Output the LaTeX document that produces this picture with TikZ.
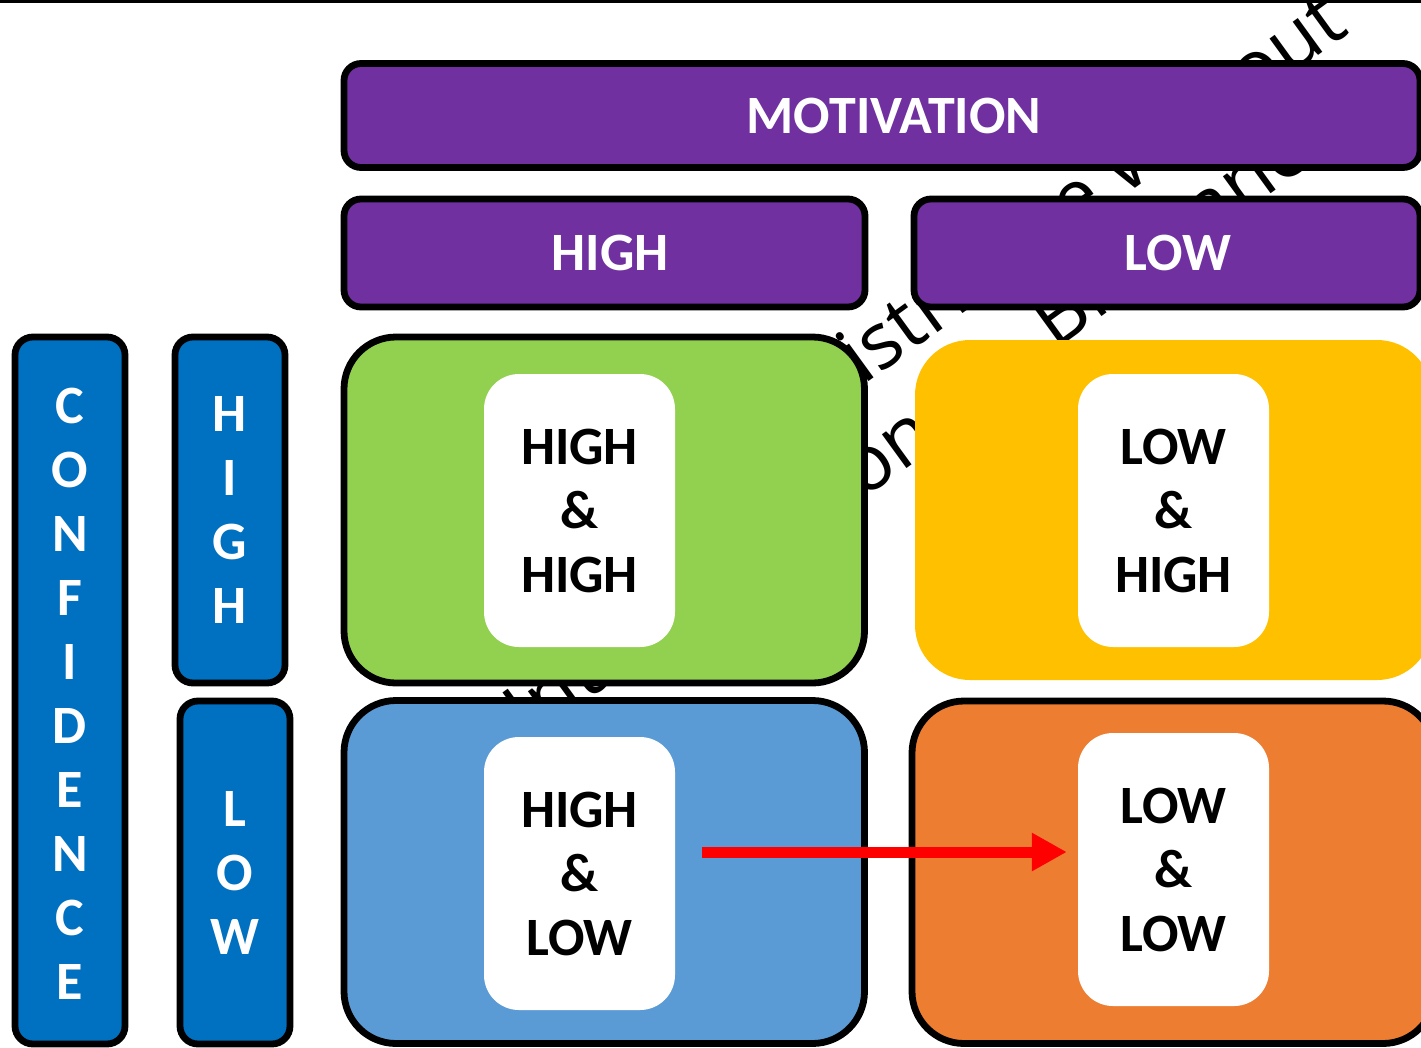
\documentclass[tikz,border=0pt]{standalone}
\usepackage{fontspec}
\setmainfont{Carlito}
\newfontfamily\wmfont{Open Sans}
\usetikzlibrary{arrows.meta}

\definecolor{motpurple}{HTML}{7030A0}
\definecolor{hhgreen}{HTML}{92D050}
\definecolor{lhyellow}{HTML}{FFC000}
\definecolor{hlblue}{HTML}{5B9BD5}
\definecolor{llorange}{HTML}{ED7D31}
\definecolor{confblue}{HTML}{0070C0}
\definecolor{arrowred}{HTML}{FF0000}

\begin{document}
\begin{tikzpicture}[x=1pt,y=1pt,
  label font/.style={font=\bfseries\fontsize{54}{64}\selectfont},
  headbox/.style={draw=black, line width=6.8pt, fill=motpurple, rounded corners=17pt,
    text=white, label font, inner sep=0pt},
  sidebox/.style={draw=black, line width=6.8pt, fill=confblue, rounded corners=18pt,
    text=white, label font, align=center, inner sep=0pt, minimum width=110pt},
  quadrant/.style={draw=black, line width=6.8pt, rounded corners=52pt, inner sep=0pt},
  card/.style={fill=white, rounded corners=35pt, minimum width=191pt, minimum height=273pt,
    inner sep=0pt, text=black, label font, align=center},
  watermark/.style={font=\wmfont\fontsize{78}{78}\selectfont, text=black, inner sep=0pt,
    rotate=36, anchor=base west},
  redarrow/.style={draw=arrowred, line width=11pt, -{Triangle[length=35pt,width=36pt]}}
]
\useasboundingbox (0,0) rectangle (1421,-1047);
\clip (0,0) rectangle (1421,-1047);

% watermark lettering behind everything
\begin{scope}[rotate=36]
  \node[watermark] (wmA) at (424,-820) {distribute without};
  \node[watermark] (wmB) at (-8,-912) {Interpretation};
  \node[watermark] (wmC) at (648,-904) {Brisbane};
\end{scope}

% rule along the top edge
\draw[line width=2.7pt] (0,-1.35) -- (1421,-1.35);

% motivation headers
\node[headbox, minimum width=1076pt, minimum height=104pt] (mot) at (882,-115.5) {\hspace*{24pt}MOTIVATION};
\node[headbox, minimum width=521pt, minimum height=108pt] (mhigh) at (604.5,-253) {\hspace*{11pt}HIGH};
\node[headbox, minimum width=506pt, minimum height=108pt] (mlow) at (1167,-253) {\hspace*{22pt}LOW};

% confidence column
\node[sidebox, minimum height=707pt] (conf) at (70,-690.5) {\rule{0pt}{41pt}C\\O\\N\\F\\I\\D\\E\\N\\C\\E};
\node[sidebox, minimum height=346pt] (chigh) at (230,-510) {H\\I\\G\\H};
\node[sidebox, minimum height=343pt] (clow) at (235,-872.5) {L\\O\\W};

% quadrants
\node[quadrant, fill=hhgreen, minimum width=520.5pt, minimum height=346pt] (qhh) at (604.25,-510) {};
\node[fill=lhyellow, rounded corners=55pt, inner sep=0pt, minimum width=517pt, minimum height=340pt] (qlh) at (1173.5,-510) {};
\node[quadrant, fill=hlblue, minimum width=520.5pt, minimum height=343pt] (qhl) at (604.25,-872) {};
\node[quadrant, fill=llorange, minimum width=523pt, minimum height=342.5pt] (qll) at (1173.5,-872.25) {};

% cards inside the quadrants
\node[card] (hh) at (579.5,-510.5) {HIGH\\\&\\HIGH};
\node[card] (lh) at (1173.5,-510.5) {LOW\\\&\\HIGH};
\node[card] (hl) at (579.5,-873.5) {HIGH\\\&\\LOW};
\node[card] (ll) at (1173.5,-869.5) {LOW\\\&\\LOW};

% move from high & low towards low & low
\coordinate (arrowstart) at (702,-852);
\draw[redarrow, shorten >=11pt] (arrowstart) -- (arrowstart -| ll.west);
\end{tikzpicture}
\end{document}
